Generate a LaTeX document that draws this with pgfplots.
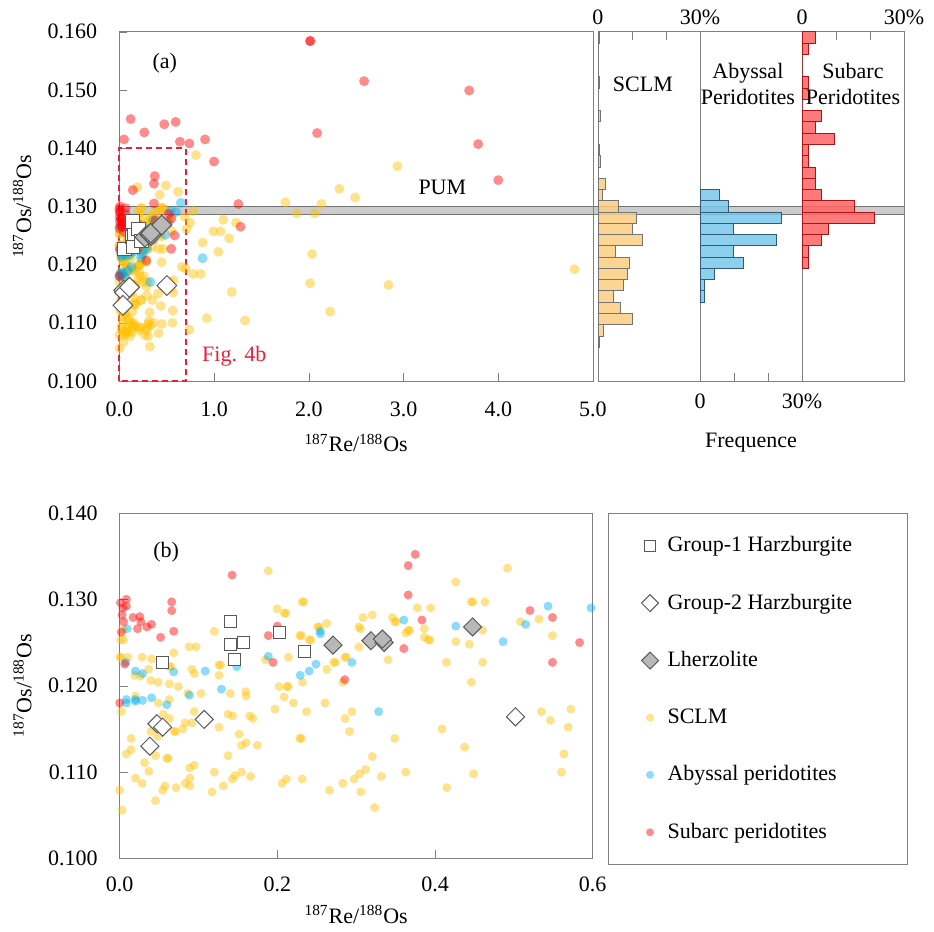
\documentclass[border=0pt]{standalone}
\usepackage{fontspec}
\setmainfont{Liberation Serif}
\usepackage{pgfplots}
\usepackage{pgfplotstable}
\pgfplotsset{compat=1.18}
\definecolor{sclm}{RGB}{255,192,0}
\definecolor{aby}{RGB}{0,176,240}
\definecolor{sub}{RGB}{255,0,0}
\definecolor{hsclm}{RGB}{252,206,130}
\definecolor{haby}{RGB}{120,200,235}
\definecolor{hsub}{RGB}{255,100,100}

\pgfplotstableread{
x y
0.1885 0.1333
0.1996 0.1289
0.2089 0.1284
0.2109 0.1284
0.2315 0.1297
0.2335 0.1297
0.2626 0.1272
0.2511 0.1268
0.2531 0.1268
0.1200 0.1263
0.3034 0.1268
0.0043 0.1265
0.0013 0.1253
0.0051 0.1253
0.2285 0.1258
0.2305 0.1258
0.2404 0.1253
0.2424 0.1253
0.0881 0.1245
0.0970 0.1245
0.0685 0.1238
0.3034 0.1245
0.0000 0.1233
0.0020 0.1233
0.0106 0.1233
0.0285 0.1233
0.0404 0.1231
0.0630 0.1222
0.0650 0.1222
0.2140 0.1233
0.1851 0.1230
0.2626 0.1219
0.2855 0.1233
0.2875 0.1233
0.2715 0.1227
0.2735 0.1227
0.0366 0.1219
0.0191 0.1212
0.0264 0.1211
0.0396 0.1206
0.0489 0.1204
0.0630 0.1202
0.0745 0.1199
0.0915 0.1219
0.0949 0.1214
0.1260 0.1224
0.1280 0.1224
0.1260 0.1212
0.2021 0.1199
0.2119 0.1199
0.2139 0.1199
0.2319 0.1204
0.2830 0.1204
0.1404 0.1191
0.1600 0.1193
0.1604 0.1188
0.1030 0.1191
0.0864 0.1191
0.0200 0.1188
0.2085 0.1187
0.0489 0.1180
0.0630 0.1184
0.0021 0.1170
0.2204 0.1180
0.2604 0.1180
0.1970 0.1173
0.2370 0.1170
0.2860 0.1162
0.2945 0.1170
0.2915 0.1147
0.0945 0.1170
0.1374 0.1167
0.1434 0.1165
0.1651 0.1165
0.1689 0.1162
0.1260 0.1152
0.0915 0.1157
0.0830 0.1157
0.0800 0.1150
0.0689 0.1147
0.0709 0.1147
0.0630 0.1162
0.0553 0.1167
0.0396 0.1147
0.0481 0.1141
0.0145 0.1139
0.0145 0.1126
0.0085 0.1121
0.0455 0.1119
0.0596 0.1116
0.0616 0.1116
0.0315 0.1111
0.0370 0.1101
0.0200 0.1093
0.0285 0.1087
0.0000 0.1079
0.0030 0.1056
0.0455 0.1067
0.0545 0.1079
0.0574 0.1084
0.0715 0.1082
0.0830 0.1087
0.0889 0.1093
0.0889 0.1084
0.0889 0.1105
0.0945 0.1108
0.1200 0.1100
0.1374 0.1119
0.1515 0.1144
0.1545 0.1131
0.1604 0.1134
0.1745 0.1131
0.1170 0.1077
0.1315 0.1084
0.1430 0.1092
0.1460 0.1096
0.1545 0.1100
0.1660 0.1095
0.2060 0.1087
0.2115 0.1092
0.2315 0.1092
0.2285 0.1139
0.2305 0.1139
0.2660 0.1079
0.2830 0.1087
0.2974 0.1092
0.3043 0.1098
0.3060 0.1077
0.5349 0.1170
0.5464 0.1160
0.5723 0.1173
0.5689 0.1152
0.5634 0.1121
0.5604 0.1100
0.4089 0.1150
0.4374 0.1129
0.4489 0.1098
0.4149 0.1082
0.3489 0.1139
0.3204 0.1118
0.3119 0.1103
0.3319 0.1095
0.3630 0.1100
0.3234 0.1059
0.4919 0.1336
0.4264 0.1320
0.4460 0.1297
0.4480 0.1297
0.4634 0.1297
0.3774 0.1290
0.3945 0.1290
0.3085 0.1279
0.3204 0.1282
0.3460 0.1279
0.3489 0.1274
0.3509 0.1274
0.3055 0.1266
0.3864 0.1266
0.3660 0.1264
0.3680 0.1264
0.3630 0.1261
0.3864 0.1256
0.3915 0.1253
0.3935 0.1253
0.4604 0.1264
0.5085 0.1274
0.5319 0.1277
0.5489 0.1258
0.4264 0.1251
0.4434 0.1248
0.3404 0.1230
0.4145 0.1227
0.4604 0.1227
0.4460 0.1204
0.3366 0.1250
0.81 0.1388
1.753 0.1307
1.873 0.1288
2.063 0.1288
2.133 0.1304
2.323 0.1330
2.489 0.1315
2.936 0.1369
2.035 0.1218
2.014 0.1168
2.841 0.1165
2.225 0.1119
4.805 0.1192
1.098 0.1277
1.232 0.1272
0.993 0.1257
1.07 0.1257
1.16 0.1245
1.045 0.1222
0.88 0.1238
0.78 0.1184
0.86 0.1184
1.187 0.1153
0.923 0.1108
1.327 0.1104
0.74 0.1088
0.746 0.1272
0.78 0.1292
0.62 0.1325
0.71 0.1261
0.69 0.1282
0.66 0.1196
0.70 0.1193
}\sclmdata

\pgfplotstableread{
x y
0.0094 0.1266
0.0200 0.1217
0.0290 0.1214
0.0685 0.1216
0.1085 0.1217
0.1290 0.1196
0.1485 0.1222
0.1885 0.1234
0.2290 0.1212
0.2404 0.1217
0.2490 0.1225
0.2545 0.1263
0.2545 0.1260
0.2945 0.1227
0.3285 0.1170
0.3604 0.1276
0.4264 0.1269
0.4864 0.1251
0.5149 0.1271
0.5434 0.1292
0.5979 0.1290
0.0085 0.1184
0.0200 0.1184
0.0289 0.1183
0.0404 0.1186
0.0085 0.1180
0.0200 0.1182
0.0596 0.1178
0.0885 0.1189
0.0077 0.1227
0.65 0.1306
0.88 0.1211
}\abydata

\pgfplotstableread{
x y
0.0085 0.1300
0.0085 0.1292
0.0030 0.1282
0.0170 0.1279
0.0255 0.1280
0.0268 0.1274
0.0226 0.1266
0.0345 0.1268
0.0404 0.1271
0.0660 0.1297
0.0660 0.1287
0.0685 0.1263
0.0519 0.1256
0.0064 0.1225
0.0000 0.1180
0.0020 0.1262
0.0040 0.1290
0.0010 0.1296
0.0050 0.1274
0.1426 0.1328
0.2000 0.1269
0.1885 0.1258
0.1945 0.1227
0.2855 0.1207
0.3749 0.1352
0.3660 0.1339
0.3660 0.1305
0.3834 0.1276
0.3604 0.1243
0.5204 0.1287
0.5490 0.1279
0.5834 0.1250
0.5490 0.1227
0.12 0.1450
0.264 0.1427
0.475 0.1441
0.595 0.1445
0.05 0.1415
0.64 0.1411
0.74 0.1408
0.905 0.1415
1.0 0.1377
1.257 0.1304
1.28 0.1265
2.014 0.1584
2.016 0.1584
2.584 0.1515
3.693 0.1499
2.088 0.1426
3.788 0.1407
4.0 0.1345
}\subdata

\pgfplotstableread{
x y
0.0545 0.1227
0.1404 0.1274
0.1404 0.1248
0.1574 0.1250
0.1460 0.1230
0.2030 0.1261
0.2345 0.1240
}\grpone

\pgfplotstableread{
x y
0.0472 0.1156
0.0545 0.1152
0.1072 0.1161
0.0383 0.1130
0.5021 0.1164
}\grptwo

\pgfplotstableread{
x y
0.2706 0.1247
0.3187 0.1252
0.3353 0.1250
0.3332 0.1254
0.4477 0.1268
}\lherz

\pgfplotstableread{
len y
0.3 0.10581
1.7 0.10774
10.0 0.10968
6.6 0.11161
4.5 0.11355
7.5 0.11548
8.6 0.11742
9.2 0.11935
5.0 0.12129
13.0 0.12323
10.0 0.12516
11.3 0.12710
6.0 0.12903
1.3 0.13097
2.2 0.13290
0 0.13484
0.8 0.13677
0.3 0.13871
0 0.14065
0 0.14258
0.8 0.14452
0 0.14645
0 0.14839
0.3 0.15032
0 0.15226
0 0.15419
0 0.15613
0.3 0.15806
0 0.16000
}\hsclmdata

\pgfplotstableread{
len y
1.41 0.11355
1.41 0.11548
4.23 0.11742
12.68 0.11935
9.86 0.12129
22.54 0.12323
9.86 0.12516
23.94 0.12710
8.45 0.12903
5.63 0.13097
0 0.13290
}\habydata

\pgfplotstableread{
len y
1.92 0.11935
1.92 0.12129
5.77 0.12323
7.69 0.12516
21.15 0.12710
15.38 0.12903
5.77 0.13097
3.85 0.13290
3.85 0.13484
1.92 0.13677
1.92 0.13871
9.62 0.14065
3.85 0.14258
5.77 0.14452
0 0.14645
1.92 0.14839
1.92 0.15032
0 0.15226
0 0.15419
1.92 0.15613
3.85 0.15806
0 0.16000
}\hsubdata

\pgfplotsset{
  base/.style={scale only axis, anchor=north west,
    axis line style={gray}, tick style={gray}, major tick length=4pt,
    tick align=inside,
    /pgf/number format/assume math mode=true,
    ticklabel style={font=\fontsize{11}{13}\selectfont},
    label style={font=\fontsize{11}{13}\selectfont}},
  sclmdot/.style={only marks, mark=*, mark size=#1, mark options={draw=sclm, draw opacity=0, fill=sclm, fill opacity=0.45}},
  abydot/.style={only marks, mark=*, mark size=#1, mark options={draw=aby, draw opacity=0, fill=aby, fill opacity=0.45}},
  subdot/.style={only marks, mark=*, mark size=#1, mark options={draw=sub, draw opacity=0, fill=sub, fill opacity=0.45}},
  g1mark/.style={only marks, mark=square*, mark size=#1, mark options={draw=black!65, fill=white, line width=0.5pt}},
  g2mark/.style={only marks, mark=square*, mark size=#1, mark options={rotate=45, draw=black!65, fill=white, line width=0.5pt}},
  lzmark/.style={only marks, mark=square*, mark size=#1, mark options={rotate=45, draw=black!65, fill=black!28, line width=0.5pt}},
}
\newcommand{\lentry}[1]{\makebox[104pt][l]{\hspace{2.5pt}#1}}

\begin{document}
\begin{tikzpicture}[font=\fontsize{11}{13}\selectfont]
\path[use as bounding box] (0,0) rectangle (467pt,-466pt);
% PUM band (behind)
\fill[gray, fill opacity=0.4] (59.65pt,-103.17pt) rectangle (452pt,-106.96pt);
\draw[gray!90!black, line width=0.4pt] (59.65pt,-103.17pt) -- (452pt,-103.17pt) (59.65pt,-106.96pt) -- (452pt,-106.96pt);

% ---------- panel (a)
\begin{axis}[base, at={(59.65pt,-15.85pt)}, width=236.85pt, height=174.65pt,
  xmin=0, xmax=5, ymin=0.1, ymax=0.16, clip=false,
  xtick={0,1,2,3,4,5}, ytick={0.10,0.11,0.12,0.13,0.14,0.15,0.16},
  xtick pos=bottom, ytick pos=left,
  xticklabel style={/pgf/number format/fixed, /pgf/number format/fixed zerofill, /pgf/number format/precision=1, yshift=-7pt},
  yticklabel style={/pgf/number format/fixed, /pgf/number format/fixed zerofill, /pgf/number format/precision=3, xshift=-7.5pt},
  xlabel={\textsuperscript{187}Re/\textsuperscript{188}Os},
  ylabel={\textsuperscript{187}Os/\textsuperscript{188}Os},
  every axis x label/.style={at={(axis description cs:0.5,0)}, anchor=center, yshift=-31pt},
  every axis y label/.style={at={(axis description cs:-0.205,0.5)}, anchor=center, rotate=90},
]
\addplot[sclmdot=2.5pt] table {\sclmdata};
\addplot[abydot=2.5pt] table {\abydata};
\addplot[subdot=2.5pt] table {\subdata};
\addplot[g1mark=3.3pt] table {\grpone};
\addplot[g2mark=3.5pt] table {\grptwo};
\addplot[lzmark=3.5pt] table {\lherz};
\draw[color={rgb,255:red,235;green,30;blue,60}, line width=0.9pt, dash pattern=on 3pt off 2pt] (axis cs:0,0.1) rectangle (axis cs:0.7,0.14);
\node[anchor=west, text={rgb,255:red,235;green,30;blue,60}] at (axis cs:0.8,0.1043) {Fig. 4b};
\node at (axis cs:0.48,0.1546) {(a)};
\node at (axis cs:3.41,0.1333) {PUM};
\end{axis}

% ---------- histograms
\begin{axis}[base, at={(299pt,-15.85pt)}, width=51pt, height=174.65pt,
  xmin=0, xmax=30, ymin=0.1, ymax=0.16, ytick=\empty,
  xtick={0,10,20,30}, xticklabels={0,,,30\%}, xtick pos=upper, xticklabel pos=upper]
\addplot[xbar interval, fill=hsclm, fill opacity=0.85, draw=black!55, line width=0.4pt] table[x=len, y=y] {\hsclmdata};
\node at (axis cs:13.2,0.151) {SCLM};
\end{axis}

\begin{axis}[base, at={(350pt,-15.85pt)}, width=51pt, height=174.65pt,
  xmin=0, xmax=30, ymin=0.1, ymax=0.16, ytick=\empty,
  xtick={0,10,20,30}, xticklabels={0,,,30\%}, xtick pos=lower, xticklabel pos=lower,
  xticklabel style={yshift=-3pt},
  xlabel={Frequence},
  every axis x label/.style={at={(axis description cs:0.5,0)}, anchor=center, yshift=-31pt}]
\addplot[xbar interval, fill=haby, fill opacity=0.85, draw={rgb,255:red,50;green,90;blue,120}, line width=0.4pt] table[x=len, y=y] {\habydata};
\node[align=center] at (axis cs:14.1,0.151) {Abyssal\\Peridotites};
\end{axis}

\begin{axis}[base, at={(401pt,-15.85pt)}, width=51pt, height=174.65pt,
  xmin=0, xmax=30, ymin=0.1, ymax=0.16, ytick=\empty,
  xtick={0,10,20,30}, xticklabels={0,,,30\%}, xtick pos=upper, xticklabel pos=upper]
\addplot[xbar interval, fill=hsub, fill opacity=0.85, draw={rgb,255:red,170;green,20;blue,20}, line width=0.4pt] table[x=len, y=y] {\hsubdata};
\node[align=center] at (axis cs:15,0.151) {Subarc\\Peridotites};
\end{axis}

% ---------- panel (b)
\begin{axis}[base, at={(59.85pt,-256.45pt)}, width=236.5pt, height=172.8pt,
  xmin=0, xmax=0.6, ymin=0.1, ymax=0.14, clip=false,
  restrict x to domain=-0.01:0.61, restrict y to domain=0.099:0.141,
  xtick={0,0.2,0.4,0.6}, ytick={0.10,0.11,0.12,0.13,0.14},
  xtick pos=bottom, ytick pos=left,
  xticklabel style={/pgf/number format/fixed, /pgf/number format/fixed zerofill, /pgf/number format/precision=1, yshift=-5.5pt},
  yticklabel style={/pgf/number format/fixed, /pgf/number format/fixed zerofill, /pgf/number format/precision=3, xshift=-7.5pt},
  xlabel={\textsuperscript{187}Re/\textsuperscript{188}Os},
  ylabel={\textsuperscript{187}Os/\textsuperscript{188}Os},
  every axis x label/.style={at={(axis description cs:0.5,0)}, anchor=center, yshift=-28pt},
  every axis y label/.style={at={(axis description cs:-0.2055,0.5)}, anchor=center, rotate=90},
  legend cell align=left,
  legend style={at={(1.0323,1)}, anchor=north west, draw=gray, line width=0.6pt,
    inner xsep=16.5pt, inner ysep=9.5pt, row sep=15.6pt,
    font=\fontsize{11}{13}\selectfont},
]
\addlegendimage{g1mark=2.8pt}\addlegendentry{\lentry{Group-1 Harzburgite}}
\addlegendimage{g2mark=3pt}\addlegendentry{\lentry{Group-2 Harzburgite}}
\addlegendimage{lzmark=3pt}\addlegendentry{\lentry{Lherzolite}}
\addlegendimage{sclmdot=2pt}\addlegendentry{\lentry{SCLM}}
\addlegendimage{abydot=2pt}\addlegendentry{\lentry{Abyssal peridotites}}
\addlegendimage{subdot=2pt}\addlegendentry{\lentry{Subarc peridotites}}
\addplot[sclmdot=2.25pt, forget plot] table {\sclmdata};
\addplot[abydot=2.25pt, forget plot] table {\abydata};
\addplot[subdot=2.25pt, forget plot] table {\subdata};
\addplot[g1mark=3pt, forget plot] table {\grpone};
\addplot[g2mark=3.2pt, forget plot] table {\grptwo};
\addplot[lzmark=3.2pt, forget plot] table {\lherz};
\node at (axis cs:0.059,0.1354) {(b)};
\end{axis}
\end{tikzpicture}
\end{document}
